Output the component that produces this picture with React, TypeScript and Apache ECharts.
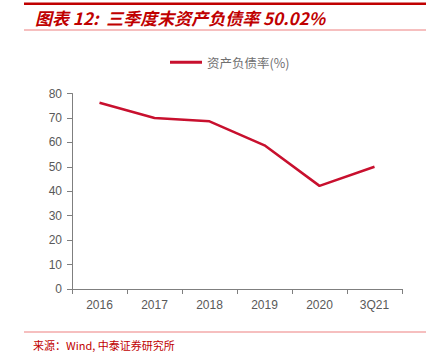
import React, { useEffect, useRef } from "react";
import * as echarts from "echarts";

const categories = ["2016", "2017", "2018", "2019", "2020", "3Q21"];
const debtRatio = [76.2, 70.0, 68.6, 58.8, 42.2, 50.02];
const seriesName = "资产负债率(%)";
const titleText = "图表 12:  三季度末资产负债率 50.02%";
const sourceText = "来源：Wind, 中泰证券研究所";

export default function App() {
  const ref = useRef<HTMLDivElement>(null);
  useEffect(() => {
    const chart = echarts.init(ref.current!, null, { renderer: "svg" });
    chart.setOption({
      animation: false,
      backgroundColor: "#ffffff",
      legend: {
        data: [seriesName],
        top: 51,
        left: 165,
        itemWidth: 32,
        itemHeight: 3,
        itemGap: 5,
        icon: "rect",
        textStyle: { color: "#6f6f6f", fontSize: 12.5, fontFamily: "Noto Sans CJK SC" },
      },
      grid: { left: 72, right: 24, top: 93.5, bottom: 64 },
      xAxis: {
        type: "category",
        data: categories,
        boundaryGap: true,
        axisLine: { lineStyle: { color: "#7f7f7f" } },
        axisTick: { show: true, alignWithLabel: false, lineStyle: { color: "#7f7f7f" } },
        axisLabel: { color: "#595959", fontSize: 12, margin: 10, fontFamily: "Liberation Sans" },
      },
      yAxis: {
        type: "value",
        min: 0,
        max: 80,
        interval: 10,
        splitLine: { show: false },
        axisLine: { show: true, lineStyle: { color: "#7f7f7f" } },
        axisTick: { show: true, lineStyle: { color: "#7f7f7f" } },
        axisLabel: { color: "#595959", fontSize: 12, margin: 10, fontFamily: "Liberation Sans" },
      },
      series: [
        {
          name: seriesName,
          type: "line",
          data: debtRatio,
          symbol: "none",
          lineStyle: { color: "#c8102e", width: 2.5 },
          itemStyle: { color: "#c8102e" },
        },
      ],
      graphic: [
        { type: "rect", shape: { x: 24, y: 2.5, width: 402, height: 2.5 }, style: { fill: "#c00000" } },
        {
          type: "text",
          x: 35,
          y: 17.5,
          style: {
            text: titleText,
            fill: "#c00000",
            font: "italic bold 17px 'Noto Sans CJK SC', 'Liberation Sans', sans-serif",
            textVerticalAlign: "middle",
          },
        },
        { type: "rect", shape: { x: 24, y: 29.5, width: 402, height: 1 }, style: { fill: "#ee8080" } },
        { type: "rect", shape: { x: 24, y: 331.5, width: 402, height: 1 }, style: { fill: "#ee8080" } },
        {
          type: "text",
          x: 33,
          y: 345,
          style: {
            text: sourceText,
            fill: "#c00000",
            font: "11px 'Noto Sans CJK SC', 'DejaVu Sans Mono', monospace",
            textVerticalAlign: "middle",
          },
        },
      ],
    });
    return () => chart.dispose();
  }, []);
  return <div ref={ref} style={{ width: 426, height: 353, position: "absolute", left: 0, top: 0 }} />;
}
